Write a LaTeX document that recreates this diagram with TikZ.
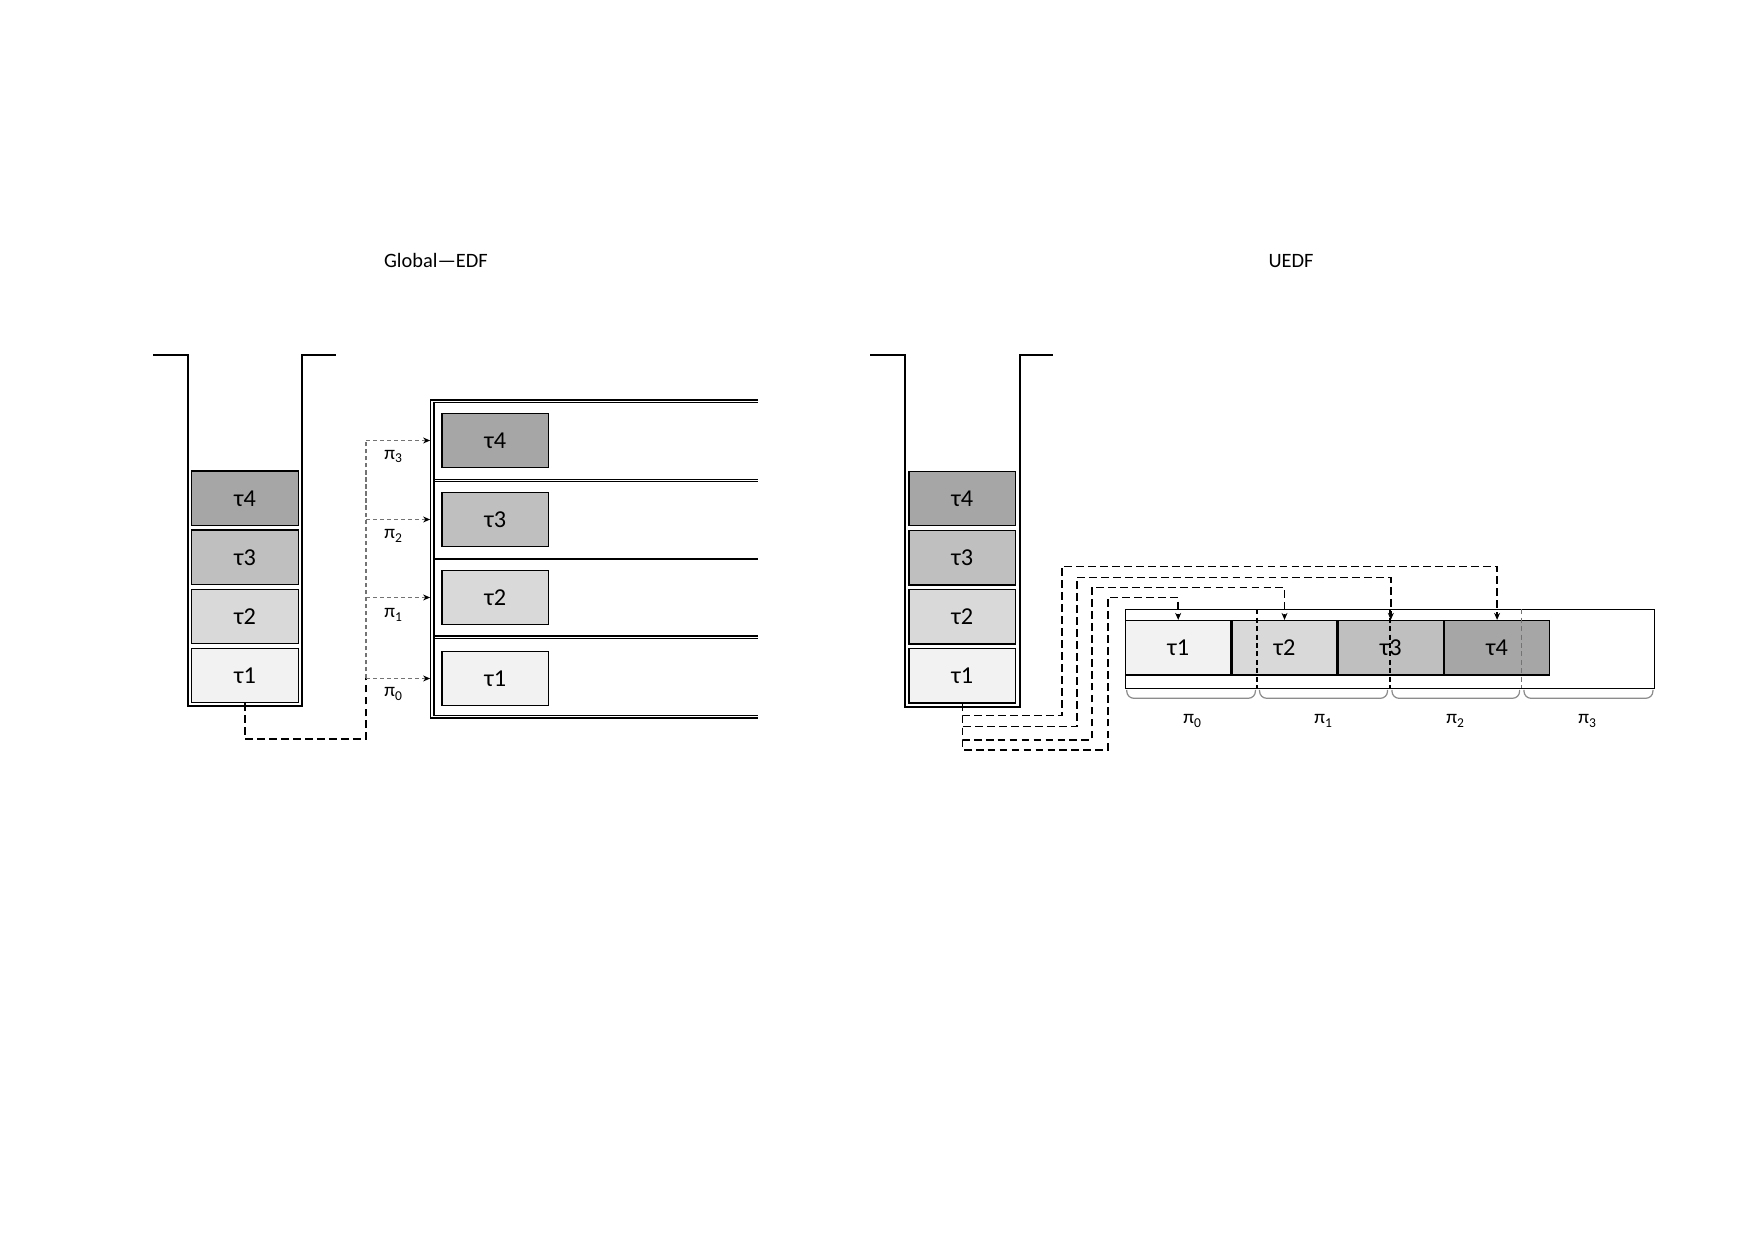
\documentclass[tikz,border=0pt]{standalone}
\usepackage{fontspec}
\setmainfont{Carlito}
\usetikzlibrary{positioning,arrows.meta}
\definecolor{tone1}{HTML}{F2F2F2}
\definecolor{tone2}{HTML}{D9D9D9}
\definecolor{tone3}{HTML}{BFBFBF}
\definecolor{tone4}{HTML}{A6A6A6}
\begin{document}
\begin{tikzpicture}[x = .01cm, y = -.01cm,
    task/.style = {draw, line width = .35pt, minimum width = 1.065cm,
      minimum height = .545cm, inner sep = 0pt, font = \fontsize{6.9}{7}\selectfont},
    slot/.style = {task, minimum width = 1.05cm},
    wall/.style = {line width = .6pt},
    feed/.style = {dash pattern = on 2.2pt off 1.2pt, line width = .45pt},
    branch/.style = {dash pattern = on 1.2pt off .8pt, line width = .35pt, draw = black!55},
    tip/.style = {-{Stealth[length = 2pt, width = 1.7pt, color = black]}},
    cut/.style = {dash pattern = on 1.4pt off 1pt, line width = .3pt},
    brace/.style = {draw = black!45, line width = .35pt, rounded corners = 2pt},
    plabel/.style = {font = \fontsize{5.5}{6}\selectfont},
    title/.style = {font = \fontsize{5.8}{7}\selectfont}]
  \useasboundingbox (0,0) rectangle (1754,1240);
  % titles
  \node [title] (tg) at (436,261) {Global—EDF};
  \node [title] (tu) at (1291,261) {UEDF};
  % global queue
  \draw [wall] (153,355) -- (188,355) -- (188,706) -- (302,706) -- (302,355) -- (336,355);
  \node [task, fill = tone1] (g1) at (245,675.5) {τ1};
  \node [task, fill = tone2, above = .033cm of g1] (g2) {τ2};
  \node [task, fill = tone3, above = .033cm of g2] (g3) {τ3};
  \node [task, fill = tone4, above = .033cm of g3] (g4) {τ4};
  % processor lanes
  \draw [line width = .5pt] (758,400) -- (430.6,400) -- (430.6,718.3) -- (758,718.3);
  \draw [line width = .35pt] (758,402.3) -- (434,402.3) -- (434,715.7) -- (758,715.7);
  \foreach \ly in {479.3,481.3,636,638.3}
    \draw [line width = .35pt] (434,\ly) -- (758,\ly);
  \draw [line width = .55pt] (434,559) -- (758,559);
  \node [task, fill = tone1] (l1) at (495.3,678.5) {τ1};
  \node [task, fill = tone2] (l2) at (495.3,597.5) {τ2};
  \node [task, fill = tone3] (l3) at (495.3,519.5) {τ3};
  \node [task, fill = tone4] (l4) at (495.3,440.5) {τ4};
  % dispatch
  \coordinate (fork) at (366,739);
  \draw [feed] (g1.south) |- (fork) -- (fork |- l1.west);
  \draw [branch] (fork |- l1.west) -- (fork |- l4.west);
  \foreach \i in {1,...,4}
    \draw [branch, tip, shorten >= 3.2pt] (fork |- l\i.west) -- (l\i.west);
  \node [plabel] (q0) at (394,694) {π\textsubscript{0}};
  \node [plabel] (q1) at (394,615) {π\textsubscript{1}};
  \node [plabel] (q2) at (394,536) {π\textsubscript{2}};
  \node [plabel] (q3) at (394,456.7) {π\textsubscript{3}};
  % uedf queue
  \draw [wall] (870,355) -- (905,355) -- (905,706.7) -- (1020,706.7) -- (1020,355) -- (1053,355);
  \node [task, fill = tone1] (s1) at (962.3,675.8) {τ1};
  \node [task, fill = tone2, above = .033cm of s1] (s2) {τ2};
  \node [task, fill = tone3, above = .033cm of s2] (s3) {τ3};
  \node [task, fill = tone4, above = .033cm of s3] (s4) {τ4};
  % shared time line
  \draw [line width = .35pt] (1125.7,609.3) rectangle (1654.6,688.3);
  \node [slot, fill = tone1] (r1) at (1178.2,647.8) {τ1};
  \node [slot, fill = tone2, right = 0pt of r1] (r2) {τ2};
  \node [slot, fill = tone3, right = 0pt of r2] (r3) {τ3};
  \node [slot, fill = tone4, right = 0pt of r3] (r4) {τ4};
  \draw [cut] (1257,609.3) -- (1257,688.3);
  \draw [cut] (1390,609.3) -- (1390,688.3);
  \draw [cut, draw = black!55] (1521.4,609.3) -- (1521.4,688.3);
  \foreach \i/\lx/\ly/\ty in {1/1107.7/750/597.7, 2/1091.7/740/587.3,
      3/1076.7/726.7/577.7, 4/1061.7/715.7/566.7}
    \draw [feed, tip] (s1.south) |- (\lx,\ly) -- (\lx,\ty) -| (r\i.north);
  \foreach \a/\b in {1126.8/1255.4, 1259.6/1387.5, 1392/1519.6, 1524/1652.9}
    \draw [brace] (\a,690) -- (\a,698.3) -- (\b,698.3) -- (\b,690);
  \node [plabel] (p0) at (1193,721) {π\textsubscript{0}};
  \node [plabel] (p1) at (1324,721) {π\textsubscript{1}};
  \node [plabel] (p2) at (1456,721) {π\textsubscript{2}};
  \node [plabel] (p3) at (1588,721) {π\textsubscript{3}};
\end{tikzpicture}
\end{document}
